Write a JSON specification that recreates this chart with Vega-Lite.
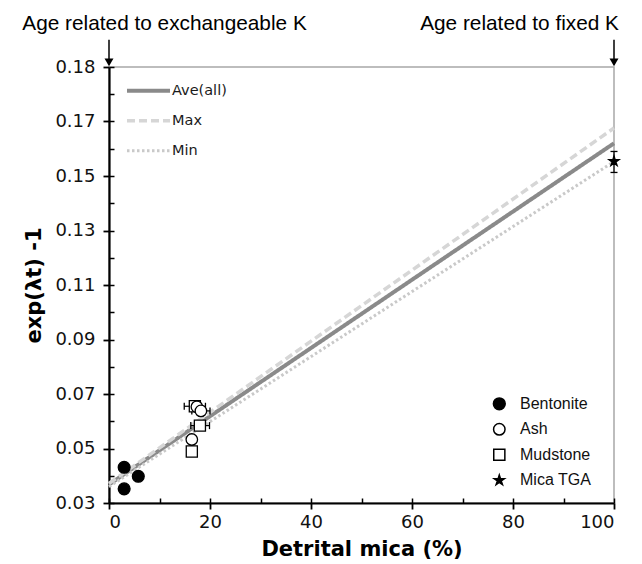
{
  "$schema": "https://vega.github.io/schema/vega-lite/v6.json",
  "width": 505,
  "height": 436,
  "autosize": "none",
  "padding": {"left": 109, "top": 67, "right": 28, "bottom": 61},
  "background": "white",
  "config": {
    "view": {"stroke": "#a8a8a8", "strokeWidth": 1.5},
    "axis": {"grid": false}
  },
  "datasets": {
    "lines": [
      {"series": "Ave(all)", "x": 0, "y": 0.0368},
      {"series": "Ave(all)", "x": 100, "y": 0.1620},
      {"series": "Max", "x": 0, "y": 0.0372},
      {"series": "Max", "x": 100, "y": 0.1676},
      {"series": "Min", "x": 0, "y": 0.0360},
      {"series": "Min", "x": 100, "y": 0.1553}
    ],
    "points": [
      {"type": "Bentonite", "x": 3.0, "y": 0.0431},
      {"type": "Bentonite", "x": 5.8, "y": 0.0398},
      {"type": "Bentonite", "x": 3.0, "y": 0.0352},
      {"type": "Mudstone", "x": 17.0, "y": 0.0655},
      {"type": "Mudstone", "x": 18.0, "y": 0.0584},
      {"type": "Mudstone", "x": 16.4, "y": 0.0489},
      {"type": "Ash", "x": 17.4, "y": 0.0653},
      {"type": "Ash", "x": 18.2, "y": 0.0638},
      {"type": "Ash", "x": 16.4, "y": 0.0533},
      {"type": "Mica TGA", "x": 100, "y": 0.1554}
    ],
    "xerr": [
      {"y": 0.0655, "lo": 14.9, "hi": 19.1},
      {"y": 0.0638, "lo": 16.4, "hi": 20.0},
      {"y": 0.0584, "lo": 16.2, "hi": 19.9}
    ],
    "yerr": [{"x": 100, "lo": 0.1513, "hi": 0.1590}],
    "arrows": [{"x": 0}, {"x": 100}],
    "notes": [
      {"label": "Age related to exchangeable K", "x": 11.0},
      {"label": "Age related to fixed K", "x": 81.3}
    ]
  },
  "layer": [
    {
      "data": {"name": "lines"},
      "mark": {"type": "line", "strokeCap": "butt"},
      "encoding": {
        "x": {"field": "x", "type": "quantitative", "scale": {"domain": [0, 100], "nice": false, "zero": false},
          "axis": {"orient": "bottom", "values": [0, 10, 20, 30, 40, 50, 60, 70, 80, 90, 100], "labels": false, "domain": false, "tickSize": -5, "tickWidth": 1.5, "tickColor": "black", "title": null, "grid": false}},
        "y": {"field": "y", "type": "quantitative", "scale": {"domain": [0.03, 0.19], "nice": false, "zero": false},
          "axis": {"orient": "left", "values": [0.03, 0.04, 0.05, 0.06, 0.07, 0.08, 0.09, 0.10, 0.11, 0.12, 0.13, 0.14, 0.15, 0.16, 0.17, 0.18, 0.19], "labels": false, "domain": false, "tickSize": -5, "tickWidth": 1.5, "tickColor": "black", "title": null, "grid": false}},
        "color": {"field": "series", "type": "nominal",
          "scale": {"domain": ["Ave(all)", "Max", "Min"], "range": ["#8a8a8a", "#d6d6d6", "#c9c9c9"]},
          "legend": {"orient": "none", "legendX": 16, "legendY": 15.8, "title": null, "symbolType": "stroke", "symbolSize": 1849, "clipHeight": 16, "rowPadding": 14, "labelOffset": 0, "labelFont": "DejaVu Sans", "labelFontSize": 14.5, "labelColor": "#1a1a1a", "padding": 0}},
        "strokeDash": {"field": "series", "type": "nominal",
          "scale": {"domain": ["Ave(all)", "Max", "Min"], "range": [[1, 0], [8, 4], [2.5, 2.5]]},
          "legend": {"orient": "none", "legendX": 16, "legendY": 15.8, "title": null, "symbolType": "stroke", "symbolSize": 1849, "clipHeight": 16, "rowPadding": 14, "labelOffset": 0, "labelFont": "DejaVu Sans", "labelFontSize": 14.5, "labelColor": "#1a1a1a", "padding": 0}},
        "strokeWidth": {"field": "series", "type": "nominal",
          "scale": {"domain": ["Ave(all)", "Max", "Min"], "range": [4, 3, 2.5]},
          "legend": {"orient": "none", "legendX": 16, "legendY": 15.8, "title": null, "symbolType": "stroke", "symbolSize": 1849, "clipHeight": 16, "rowPadding": 14, "labelOffset": 0, "labelFont": "DejaVu Sans", "labelFontSize": 14.5, "labelColor": "#1a1a1a", "padding": 0}}
      }
    },
    {
      "data": {"name": "xerr"},
      "mark": {"type": "rule", "color": "black", "strokeWidth": 1.2},
      "encoding": {
        "x": {"field": "lo", "type": "quantitative", "scale": {"domain": [0, 100], "nice": false, "zero": false}, "axis": null},
        "x2": {"field": "hi"},
        "y": {"field": "y", "type": "quantitative", "scale": {"domain": [0.03, 0.19], "nice": false, "zero": false}, "axis": null}
      }
    },
    {
      "data": {"name": "xerr"},
      "mark": {"type": "tick", "orient": "vertical", "color": "black", "size": 7, "thickness": 1.3, "opacity": 1},
      "encoding": {
        "x": {"field": "lo", "type": "quantitative", "scale": {"domain": [0, 100], "nice": false, "zero": false}, "axis": null},
        "y": {"field": "y", "type": "quantitative", "scale": {"domain": [0.03, 0.19], "nice": false, "zero": false}, "axis": null}
      }
    },
    {
      "data": {"name": "xerr"},
      "mark": {"type": "tick", "orient": "vertical", "color": "black", "size": 7, "thickness": 1.3, "opacity": 1},
      "encoding": {
        "x": {"field": "hi", "type": "quantitative", "scale": {"domain": [0, 100], "nice": false, "zero": false}, "axis": null},
        "y": {"field": "y", "type": "quantitative", "scale": {"domain": [0.03, 0.19], "nice": false, "zero": false}, "axis": null}
      }
    },
    {
      "data": {"name": "yerr"},
      "mark": {"type": "rule", "color": "black", "strokeWidth": 1.2},
      "encoding": {
        "x": {"field": "x", "type": "quantitative", "scale": {"domain": [0, 100], "nice": false, "zero": false}, "axis": null},
        "y": {"field": "lo", "type": "quantitative", "scale": {"domain": [0.03, 0.19], "nice": false, "zero": false}, "axis": null},
        "y2": {"field": "hi"}
      }
    },
    {
      "data": {"name": "yerr"},
      "mark": {"type": "tick", "orient": "horizontal", "color": "black", "size": 7, "thickness": 1.3, "opacity": 1},
      "encoding": {
        "x": {"field": "x", "type": "quantitative", "scale": {"domain": [0, 100], "nice": false, "zero": false}, "axis": null},
        "y": {"field": "lo", "type": "quantitative", "scale": {"domain": [0.03, 0.19], "nice": false, "zero": false}, "axis": null}
      }
    },
    {
      "data": {"name": "yerr"},
      "mark": {"type": "tick", "orient": "horizontal", "color": "black", "size": 7, "thickness": 1.3, "opacity": 1},
      "encoding": {
        "x": {"field": "x", "type": "quantitative", "scale": {"domain": [0, 100], "nice": false, "zero": false}, "axis": null},
        "y": {"field": "hi", "type": "quantitative", "scale": {"domain": [0.03, 0.19], "nice": false, "zero": false}, "axis": null}
      }
    },
    {
      "data": {"name": "points"},
      "mark": {"type": "point", "filled": true, "opacity": 1, "stroke": "black", "strokeWidth": 1.3},
      "encoding": {
        "x": {"field": "x", "type": "quantitative", "scale": {"domain": [0, 100], "nice": false, "zero": false},
          "axis": {"orient": "bottom", "values": [0, 20, 40, 60, 80, 100], "tickSize": 6, "tickWidth": 1.8, "tickColor": "black", "domainColor": "black", "domainWidth": 2.2, "labelFont": "DejaVu Sans", "labelFontSize": 18, "labelColor": "#111", "labelPadding": 4, "title": "Detrital mica (%)", "titleFont": "DejaVu Sans", "titleFontWeight": "bold", "titleFontSize": 21, "titleColor": "black", "titlePadding": 7, "grid": false}},
        "y": {"field": "y", "type": "quantitative", "scale": {"domain": [0.03, 0.19], "nice": false, "zero": false},
          "axis": {"orient": "left", "values": [0.03, 0.05, 0.07, 0.09, 0.11, 0.13, 0.15, 0.17, 0.19], "labelExpr": "datum.value > 0.185 ? '0.18' : format(datum.value, '.2f')", "tickSize": 6, "tickWidth": 1.8, "tickColor": "black", "domainColor": "black", "domainWidth": 2.2, "labelFont": "DejaVu Sans", "labelFontSize": 18, "labelColor": "#111", "labelPadding": 8, "title": "exp(λt) -1", "titleFont": "DejaVu Sans", "titleFontWeight": "bold", "titleFontSize": 21, "titleColor": "black", "titlePadding": 10, "grid": false}},
        "fill": {"field": "type", "type": "nominal",
          "scale": {"domain": ["Bentonite", "Ash", "Mudstone", "Mica TGA"], "range": ["black", "white", "white", "black"]},
          "legend": {"orient": "none", "legendX": 382.3, "legendY": 328.8, "title": null, "clipHeight": 16, "rowPadding": 9.5, "labelOffset": 12.7, "labelFont": "Liberation Sans", "labelFontSize": 16, "labelColor": "#111", "padding": 0,
            "encode": {"symbols": {"update": {"stroke": {"value": "black"}, "strokeWidth": {"value": 1.3}}}}}},
        "shape": {"field": "type", "type": "nominal",
          "scale": {"domain": ["Bentonite", "Ash", "Mudstone", "Mica TGA"], "range": ["circle", "circle", "square", "M0,-1L0.2245,-0.309L0.951,-0.309L0.363,0.118L0.588,0.809L0,0.382L-0.588,0.809L-0.363,0.118L-0.951,-0.309L-0.2245,-0.309Z"]},
          "legend": {"orient": "none", "legendX": 382.3, "legendY": 328.8, "title": null, "clipHeight": 16, "rowPadding": 9.5, "labelOffset": 12.7, "labelFont": "Liberation Sans", "labelFontSize": 16, "labelColor": "#111", "padding": 0,
            "encode": {"symbols": {"update": {"stroke": {"value": "black"}, "strokeWidth": {"value": 1.3}}}}}},
        "size": {"field": "type", "type": "nominal",
          "scale": {"domain": ["Bentonite", "Ash", "Mudstone", "Mica TGA"], "range": [140, 115, 175, 340]},
          "legend": {"orient": "none", "legendX": 382.3, "legendY": 328.8, "title": null, "clipHeight": 16, "rowPadding": 9.5, "labelOffset": 12.7, "labelFont": "Liberation Sans", "labelFontSize": 16, "labelColor": "#111", "padding": 0,
            "encode": {"symbols": {"update": {"stroke": {"value": "black"}, "strokeWidth": {"value": 1.3}}}}}}
      }
    },
    {
      "data": {"name": "arrows"},
      "mark": {"type": "rule", "color": "black", "strokeWidth": 1.5},
      "encoding": {
        "x": {"field": "x", "type": "quantitative", "scale": {"domain": [0, 100], "nice": false, "zero": false}, "axis": null},
        "y": {"datum": 0.2000, "type": "quantitative", "scale": {"domain": [0.03, 0.19], "nice": false, "zero": false}, "axis": null},
        "y2": {"datum": 0.1925}
      }
    },
    {
      "data": {"name": "arrows"},
      "mark": {"type": "point", "shape": "triangle-down", "filled": true, "color": "black", "opacity": 1, "size": 80},
      "encoding": {
        "x": {"field": "x", "type": "quantitative", "scale": {"domain": [0, 100], "nice": false, "zero": false}, "axis": null},
        "y": {"datum": 0.1917, "type": "quantitative", "scale": {"domain": [0.03, 0.19], "nice": false, "zero": false}, "axis": null}
      }
    },
    {
      "data": {"name": "notes"},
      "mark": {"type": "text", "font": "Liberation Sans", "fontSize": 20.8, "align": "center", "baseline": "alphabetic", "color": "black"},
      "encoding": {
        "x": {"field": "x", "type": "quantitative", "scale": {"domain": [0, 100], "nice": false, "zero": false}, "axis": null},
        "y": {"datum": 0.2034, "type": "quantitative", "scale": {"domain": [0.03, 0.19], "nice": false, "zero": false}, "axis": null},
        "text": {"field": "label"}
      }
    }
  ],
  "resolve": {"axis": {"x": "independent", "y": "independent"}}
}
